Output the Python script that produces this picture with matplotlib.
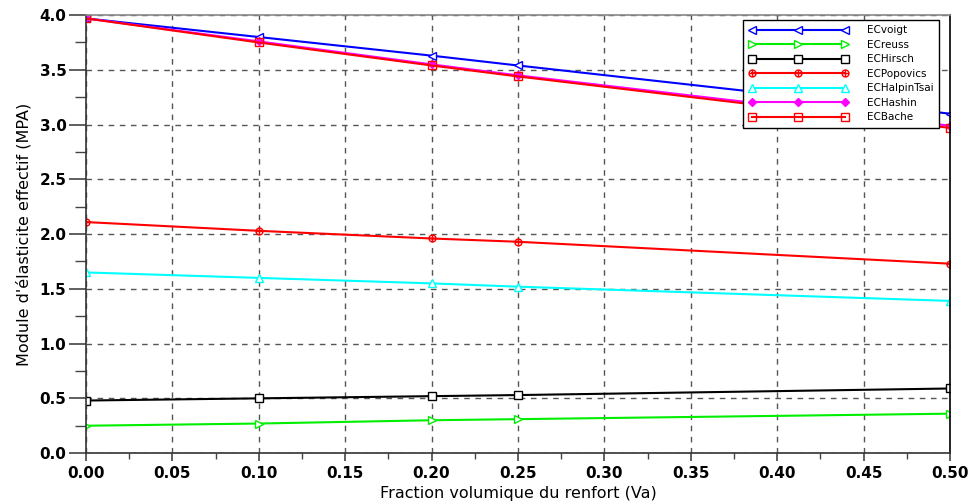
import matplotlib
matplotlib.use("Agg")
import matplotlib.pyplot as plt
from matplotlib.path import Path
import numpy as np

# Volume fraction of reinforcement
va = [0.0, 0.10, 0.20, 0.25, 0.50]

# Effective elastic modulus for each model (MPa)
ec_voigt = [3.97, 3.80, 3.63, 3.54, 3.10]
ec_reuss = [0.25, 0.27, 0.30, 0.31, 0.36]
ec_hirsch = [0.48, 0.50, 0.52, 0.53, 0.59]
ec_popovics = [2.11, 2.03, 1.96, 1.93, 1.73]
ec_halpin = [1.65, 1.60, 1.55, 1.52, 1.39]
ec_hashin = [3.97, 3.76, 3.55, 3.45, 2.99]
ec_bache = [3.97, 3.75, 3.54, 3.44, 2.97]

series_names = ["ECvoigt", "ECreuss", "ECHirsch", "ECPopovics",
                "ECHalpinTsai", "ECHashin", "ECBache"]

x_ticks = [0.00, 0.05, 0.10, 0.15, 0.20, 0.25, 0.30, 0.35, 0.40, 0.45, 0.50]
y_ticks = [0.0, 0.5, 1.0, 1.5, 2.0, 2.5, 3.0, 3.5, 4.0]

plt.rcParams['font.family'] = ['DejaVu Sans']

# circle with a cross inside
circ = Path.unit_circle()
cross = Path([(-1, 0), (1, 0), (0, -1), (0, 1)],
             [Path.MOVETO, Path.LINETO, Path.MOVETO, Path.LINETO])
circle_plus = Path.make_compound_path(circ, cross)

fig = plt.figure(figsize=(9.79, 5.04), dpi=100)
ax = fig.add_axes([0.0878, 0.101, 0.8825, 0.869])

styles = [
    dict(color='#0000ff', marker='<', mfc='white', mec='#0000ff'),
    dict(color='#00ee00', marker='>', mfc='white', mec='#00ee00'),
    dict(color='black', marker='s', mfc='white', mec='black'),
    dict(color='#ff0000', marker=circle_plus, mfc='none', mec='#ff0000'),
    dict(color='#00ffff', marker='^', mfc='white', mec='#00ffff'),
    dict(color='#ff00ff', marker='D', mfc='#ff00ff', mec='#ff00ff'),
    dict(color='#ff0000', marker='s', mfc='none', mec='#ff0000'),
]
data = [ec_voigt, ec_reuss, ec_hirsch, ec_popovics, ec_halpin, ec_hashin, ec_bache]
msizes = [5.5, 5.5, 5.5, 5, 5.5, 3.8, 5.5]

for name, ys, st, ms in zip(series_names, data, styles, msizes):
    ax.plot(va, ys, label=name, lw=1.5, ms=ms, mew=1.0, **st)

ax.set_xlim(0, 0.5)
ax.set_ylim(0, 4.0)
ax.set_xticks(x_ticks)
ax.set_yticks(y_ticks)
ax.set_xticklabels([f"{v:.2f}" for v in x_ticks])
ax.set_yticklabels([f"{v:.1f}" for v in y_ticks])
ax.set_xticks(np.arange(0.025, 0.5, 0.05), minor=True)
ax.set_yticks(np.arange(0.25, 4.0, 0.5), minor=True)
ax.tick_params(axis='y', which='major', direction='out', length=12, width=1.2,
               labelsize=11, color='#444444', pad=2)
ax.tick_params(axis='y', which='minor', direction='out', length=8, width=1.0,
               color='#444444')
ax.tick_params(axis='x', which='major', direction='out', length=6, width=1.2,
               labelsize=11, color='#444444', pad=3)
ax.tick_params(axis='x', which='minor', direction='out', length=4, width=1.0,
               color='#444444')
for lab in ax.get_xticklabels() + ax.get_yticklabels():
    lab.set_fontweight('bold')

ax.grid(True, which='major', linestyle=(0, (4, 4)), color='#555555', lw=1.0)
ax.set_axisbelow(True)

ax.spines['top'].set_color('#888888')
ax.spines['left'].set_color('#333333')
ax.spines['bottom'].set_color('#333333')
ax.spines['right'].set_color('black')
for s in ax.spines.values():
    s.set_linewidth(1.2)

ax.set_xlabel("Fraction volumique du renfort (Va)", fontsize=11.5, labelpad=4)
ax.set_ylabel("Module d'élasticite effectif (MPA)", fontsize=11.5, labelpad=6)

leg = ax.legend(loc='upper right', bbox_to_anchor=(0.991, 0.997), fontsize=7.5,
                numpoints=3, handlelength=9.5, handletextpad=1.8,
                labelspacing=0.43, borderpad=0.55, borderaxespad=0.3,
                fancybox=False, shadow=False, framealpha=1.0, edgecolor='black')
leg.get_frame().set_linewidth(1.0)

fig.savefig("out.png", dpi=100)
